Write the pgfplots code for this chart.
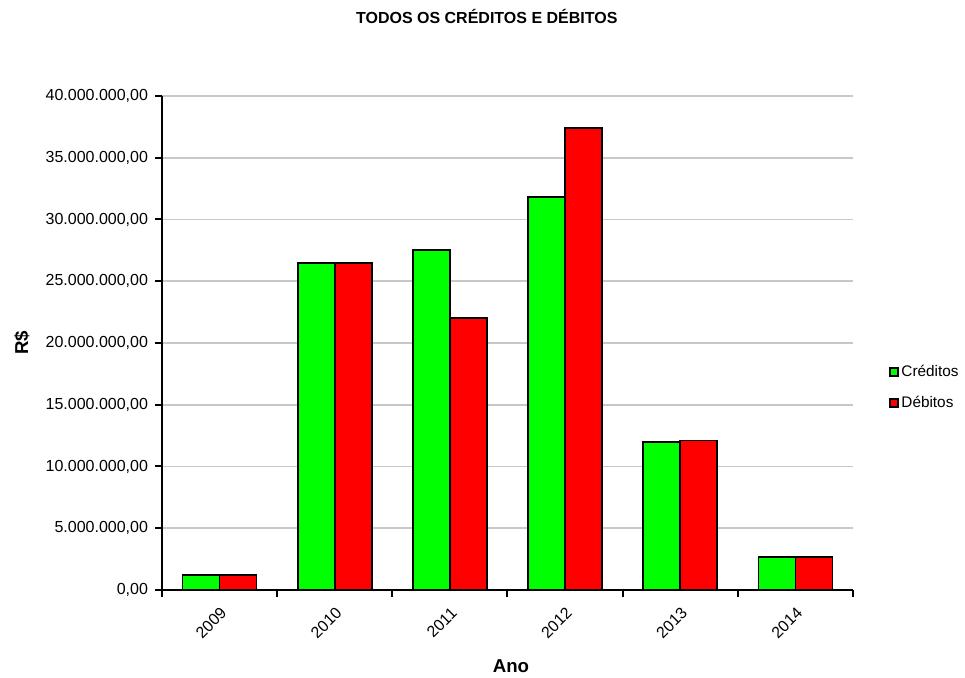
\documentclass[border=0pt]{standalone}
\usepackage{pgfplots}
\pgfplotsset{compat=1.18}
\usepackage{fontspec}
\setmainfont{Liberation Sans}
\definecolor{cgreen}{RGB}{0,255,0}
\definecolor{cred}{RGB}{255,0,0}
\definecolor{gridc}{RGB}{200,200,200}
\begin{document}
\begin{tikzpicture}
\begin{axis}[
  name=ax,
  at={(0,0)}, anchor=south west,
  scale only axis,
  width=518.25pt, height=370.5pt,
  ymin=0, ymax=40000000,
  ytick={0,5000000,...,40000000},
  xmin=-0.5, xmax=5.5,
  xtick={0,1,2,3,4,5},
  xticklabels={2009,2010,2011,2012,2013,2014},
  minor xtick={-0.5,0.5,1.5,2.5,3.5,4.5,5.5},
  major x tick style={draw=none},
  minor x tick style={black, line width=1.5pt},
  minor tick length=5pt,
  major y tick style={black, line width=1.5pt},
  major tick length=5pt,
  tick align=outside,
  axis x line*=bottom, axis y line*=left,
  axis line style={black, line width=1.5pt, -},
  ymajorgrids, grid style={gridc, line width=1.2pt},
  scaled y ticks=false,
  /pgf/number format/fixed,
  /pgf/number format/fixed zerofill,
  /pgf/number format/precision=2,
  /pgf/number format/1000 sep={.},
  /pgf/number format/use comma,
  /pgf/number format/assume math mode=true,
  ticklabel style={font=\fontsize{12}{14}\selectfont},
  xticklabel style={rotate=45, anchor=north east, inner sep=2pt, yshift=-3pt, xshift=-3pt},
  yticklabel style={xshift=-2pt},
  ybar=0pt, bar width=27.75pt,
  title={\fontsize{12}{14}\selectfont\bfseries TODOS OS CRÉDITOS E DÉBITOS},
  title style={at={(axis description cs:0.47,1.144)}, anchor=center},
  xlabel={\fontsize{14}{16}\selectfont\bfseries Ano},
  xlabel style={at={(axis description cs:0.505,-0.155)}, anchor=center},
  ylabel={\fontsize{14}{16}\selectfont\bfseries R\$},
  ylabel style={at={(axis description cs:-0.2026,0.5)}, anchor=center, rotate=0},
  legend style={at={(axis description cs:1.052,0.41)}, anchor=west, draw=none, fill=none,
    font=\fontsize{11.5}{13}\selectfont, row sep=9pt, inner sep=0pt},
  legend cell align=left,
  legend image code/.code={\draw[#1, draw=black, line width=1.2pt] (0pt,-3pt) rectangle (6pt,3pt);},
  clip=false,
]
\addplot[fill=cgreen, draw=black, line width=1.3pt] coordinates {(0,1200000) (1,26450000) (2,27550000) (3,31850000) (4,12000000) (5,2700000)};
\addplot[fill=cred, draw=black, line width=1.3pt] coordinates {(0,1200000) (1,26450000) (2,22000000) (3,37400000) (4,12100000) (5,2700000)};
\legend{Créditos, Débitos}
\end{axis}
\pgfresetboundingbox
\useasboundingbox (-121.5pt,-66pt) rectangle ++(723.75pt,508.5pt);
\end{tikzpicture}
\end{document}
